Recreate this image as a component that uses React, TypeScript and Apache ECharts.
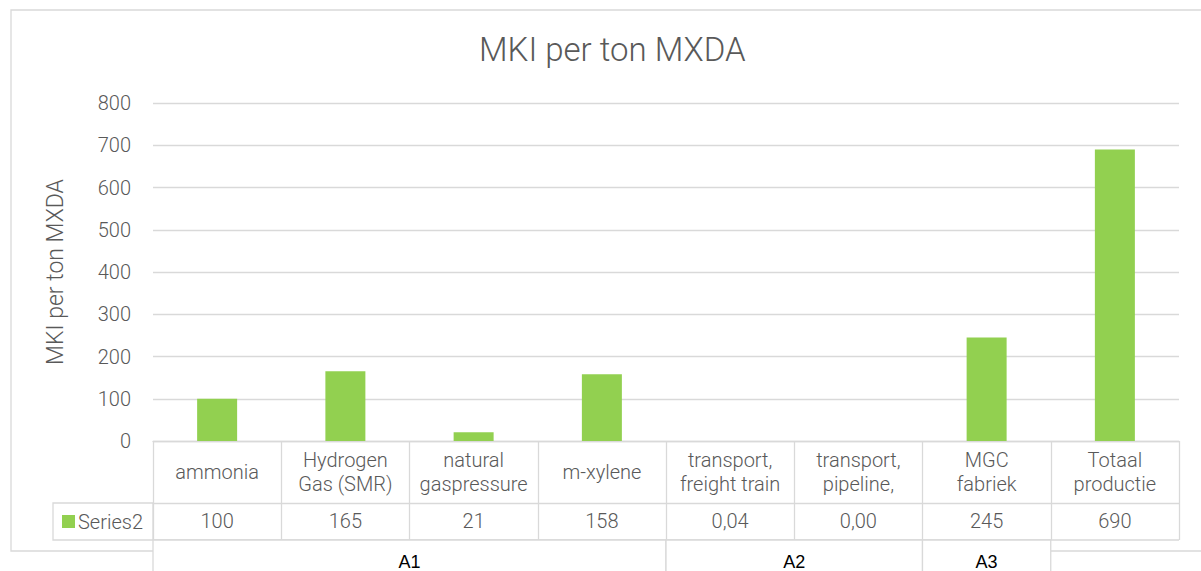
import React, { useEffect, useRef } from "react";
import * as echarts from "echarts";

const chartTitle = "MKI per ton MXDA";
const yAxisTitle = "MKI per ton MXDA";
const seriesName = "Series2";
const categories = [
  "ammonia",
  "Hydrogen\nGas (SMR)",
  "natural\ngaspressure",
  "m-xylene",
  "transport,\nfreight train",
  "transport,\npipeline,",
  "MGC\nfabriek",
  "Totaal\nproductie",
];
const values = [100, 165, 21, 158, 0.04, 0.0, 245, 690];
const groupNames = ["A1", "A2", "A3"];
const groupSpans = [4, 2, 1];
const yMin = 0;
const yMax = 800;
const yInterval = 100;

const fmt = (v: number) => (v < 1 ? v.toFixed(2).replace(".", ",") : String(Math.round(v)));

const W = 1201;
const H = 571;
const GL = 153;
const GR = 1179;
const GT = 103;
const GB = 441;
const LINE = "#d9d9d9";
const TXT = "#595959";
const GREEN = "#92d050";
const FONT = "Roboto, 'Open Sans', sans-serif";
const FW = 300;

export default function App() {
  const ref = useRef<HTMLDivElement>(null);
  useEffect(() => {
    if (!ref.current) return;
    const chart = echarts.init(ref.current, undefined, { renderer: "svg" });
    const catW = (GR - GL) / categories.length;
    const rowTop = GB + 99;
    const graphics: any[] = [];
    // outer frame
    graphics.push({
      type: "rect",
      z: -10,
      shape: { x: 11, y: 10, width: 1210, height: 541 },
      style: { fill: "none", stroke: LINE, lineWidth: 1.3 },
    });
    // legend cell in the data table
    graphics.push({
      type: "rect",
      shape: { x: 53, y: GB + 62, width: GL - 53, height: 37 },
      style: { fill: "#fff", stroke: LINE, lineWidth: 1.3 },
    });
    graphics.push({
      type: "rect",
      shape: { x: 62, y: GB + 74, width: 13, height: 13 },
      style: { fill: GREEN },
    });
    graphics.push({
      type: "text",
      x: 78,
      y: GB + 81,
      style: { text: seriesName, fill: TXT, font: `${FW} 20px ${FONT}`, verticalAlign: "middle", align: "left" },
    });
    // bottom line of table
    graphics.push({
      type: "line",
      shape: { x1: GL, y1: rowTop, x2: GR, y2: rowTop },
      style: { stroke: LINE, lineWidth: 1.3 },
    });
    // group boxes
    let start = 0;
    groupNames.forEach((g, i) => {
      const x0 = GL + start * catW;
      const w = groupSpans[i] * catW;
      graphics.push({
        type: "rect",
        z: 5,
        shape: { x: x0, y: rowTop, width: w, height: 60 },
        style: { fill: "#fff", stroke: LINE, lineWidth: 1.3 },
      });
      graphics.push({
        type: "text",
        z: 6,
        x: x0 + w / 2,
        y: rowTop + 22,
        style: { text: g, fill: "#000", font: `18px 'Liberation Sans', Arial, sans-serif`, align: "center", verticalAlign: "middle" },
      });
      start += groupSpans[i];
    });

    chart.setOption({
      animation: false,
      backgroundColor: "#fff",
      title: {
        text: chartTitle,
        left: 474,
        top: 28,
        textStyle: { color: TXT, fontSize: 33, fontWeight: FW, fontFamily: FONT },
      },
      grid: { left: GL, right: W - GR, top: GT, bottom: H - GB },
      yAxis: {
        type: "value",
        min: yMin,
        max: yMax,
        interval: yInterval,
        name: yAxisTitle,
        nameLocation: "middle",
        nameGap: 86,
        nameTextStyle: { color: TXT, fontSize: 23, fontFamily: FONT, fontWeight: FW },
        axisLine: { show: false },
        axisTick: { show: false },
        axisLabel: { color: TXT, fontSize: 20, fontFamily: FONT, fontWeight: FW, margin: 22 },
        splitLine: { lineStyle: { color: LINE, width: 1.3 } },
      },
      xAxis: [
        {
          type: "category",
          data: categories,
          axisLine: { show: true, lineStyle: { color: LINE, width: 1.3 } },
          axisTick: { show: true, length: 99, lineStyle: { color: LINE, width: 1.3 } },
          axisLabel: {
            color: TXT,
            fontSize: 20,
            fontFamily: FONT,
            fontWeight: FW,
            lineHeight: 24,
            margin: 31,
            verticalAlign: "middle",
            interval: 0,
          },
        },
        {
          type: "category",
          data: values.map(fmt),
          position: "bottom",
          offset: 62,
          axisLine: { show: true, lineStyle: { color: LINE, width: 1.3 } },
          axisTick: { show: false },
          axisLabel: {
            color: TXT,
            fontSize: 20,
            fontFamily: FONT,
            fontWeight: FW,
            margin: 18,
            verticalAlign: "middle",
            interval: 0,
          },
        },
      ],
      series: [
        {
          name: seriesName,
          type: "bar",
          data: values,
          xAxisIndex: 0,
          barWidth: 40,
          itemStyle: { color: GREEN },
        },
      ],
      graphic: graphics,
    });
    return () => chart.dispose();
  }, []);
  return (
    <div
      ref={ref}
      style={{ position: "fixed", left: 0, top: 0, width: W, height: H, background: "#fff" }}
    />
  );
}
